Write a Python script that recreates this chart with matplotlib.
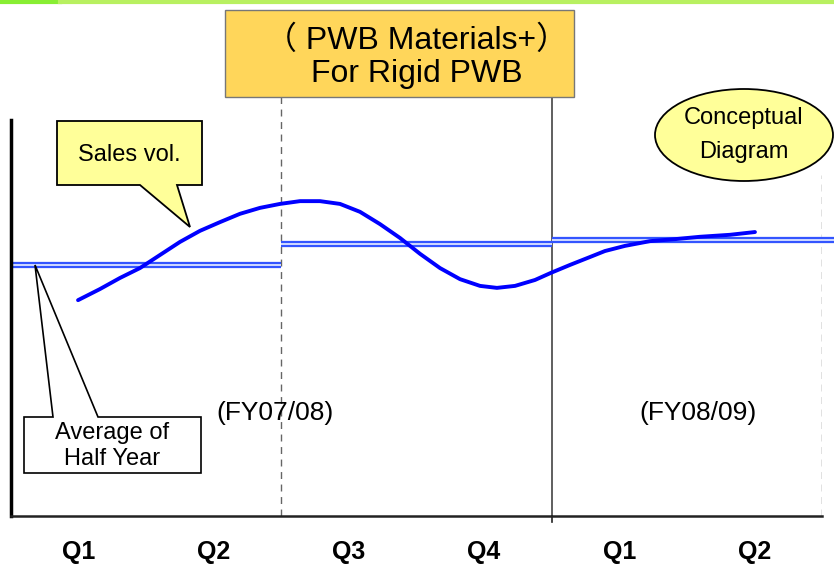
import matplotlib.pyplot as plt
from matplotlib.patches import Polygon, Ellipse, Rectangle

plt.rcParams['font.family'] = ['Liberation Sans', 'DejaVu Sans']

# quarters along the bottom
quarters = ['Q1', 'Q2', 'Q3', 'Q4', 'Q1', 'Q2']
fiscal_years = ['(FY07/08)', '(FY08/09)']

# sales volume curve (quarter position, level)
sales_x = [0.496, 0.658, 0.806, 0.954, 1.102, 1.250, 1.398, 1.546, 1.694,
           1.842, 1.990, 2.138, 2.286, 2.434, 2.582, 2.730, 2.878, 3.026,
           3.174, 3.322, 3.470, 3.595, 3.729, 3.877, 3.995, 4.136, 4.284,
           4.394, 4.542, 4.727, 4.912, 5.097, 5.319, 5.504]
sales_y = [54.5, 57.3, 60.1, 62.6, 65.9, 69.2, 72.0, 74.2, 76.3,
           77.8, 78.8, 79.5, 79.5, 78.8, 76.8, 73.7, 70.2, 66.2,
           62.6, 59.8, 58.1, 57.6, 58.1, 59.6, 61.4, 63.4, 65.4,
           66.9, 68.2, 69.4, 69.9, 70.5, 71.0, 71.7]

# half-year averages
half_start = [0, 2, 4]
half_end = [2, 4, 6.1]
half_avg = [63.4, 68.7, 69.7]

fig = plt.figure(figsize=(8.34, 5.66), dpi=100)
ax = fig.add_axes([11 / 834, 50 / 566, 811 / 834, 421 / 566])
ax.set_xlim(0, 6)
ax.set_ylim(0, 106.3)

for s in ['top', 'right']:
    ax.spines[s].set_visible(False)
ax.spines['left'].set_bounds(0, 100)
ax.spines['left'].set_linewidth(2.5)
ax.spines['bottom'].set_linewidth(1.8)
ax.spines['bottom'].set_color('#222222')
ax.set_yticks([])
ax.set_xticks([0.5, 1.5, 2.5, 3.5, 4.5, 5.5])
ax.set_xticklabels(quarters, fontsize=18, fontweight='bold')
ax.tick_params(axis='x', length=0, pad=17)

# half-year dividers
ax.plot([2, 2], [0, 106.3], color='#666666', lw=1, ls=(0, (5, 4)))
ax.plot([4, 4], [0, 106.3], color='#444444', lw=1.2)
ax.plot([6, 6], [0, 86], color='#666666', lw=1, ls=(0, (5, 4)))
ax.plot([4, 4], [-1.5, 0], color='#222222', lw=1.2, clip_on=False)

# double-line averages
for x0, x1, v in zip(half_start, half_end, half_avg):
    ax.plot([x0, x1], [v, v], color='#3355FF', lw=4.5, clip_on=False,
            solid_capstyle='butt')
    ax.plot([x0, x1], [v, v], color='#DDE4FF', lw=1.3, clip_on=False,
            solid_capstyle='butt')

ax.plot(sales_x, sales_y, color='#0000FF', lw=2.8, solid_capstyle='round')

ax.text(1.95, 26, fiscal_years[0], ha='center', va='center', fontsize=19)
ax.text(5.08, 26, fiscal_years[1], ha='center', va='center', fontsize=19)

# overlay in pixel units for the boxes and callouts
ov = fig.add_axes([0, 0, 1, 1], zorder=5)
ov.set_xlim(0, 834)
ov.set_ylim(566, 0)
ov.axis('off')
ov.patch.set_alpha(0)

ov.plot([0, 60], [1.5, 1.5], color='#88EE33', lw=3)
ov.plot([60, 834], [1.5, 1.5], color='#B8F060', lw=3)

ov.add_patch(Rectangle((225, 10), 349, 87, facecolor='#FFD65A',
                       edgecolor='#777777', lw=1))
ov.text(417, 41, '（ PWB Materials+）', ha='center', va='center', fontsize=23,
        family=['Liberation Sans', 'Noto Sans CJK JP'])
ov.text(417, 74, 'For Rigid PWB', ha='center', va='center', fontsize=23)

ov.add_patch(Polygon([(57, 121), (202, 121), (202, 185), (177, 185),
                      (190, 227), (140, 185), (57, 185)],
                     closed=True, facecolor='#FFFF99', edgecolor='black', lw=1.3))
ov.text(129, 155, 'Sales vol.', ha='center', va='center', fontsize=17)

ov.add_patch(Polygon([(24, 417), (53, 417), (35, 265), (98, 417), (201, 417),
                      (201, 473), (24, 473)],
                     closed=True, facecolor='white', edgecolor='black', lw=1.2))
ov.text(112, 433, 'Average of', ha='center', va='center', fontsize=17)
ov.text(112, 459, 'Half Year', ha='center', va='center', fontsize=17)

ov.add_patch(Ellipse((744, 135), 178, 92, facecolor='#FFFF99',
                     edgecolor='black', lw=1.3))
ov.text(744, 118, 'Conceptual', ha='center', va='center', fontsize=17)
ov.text(744, 152, 'Diagram', ha='center', va='center', fontsize=17)

fig.savefig('out.png', dpi=100)
